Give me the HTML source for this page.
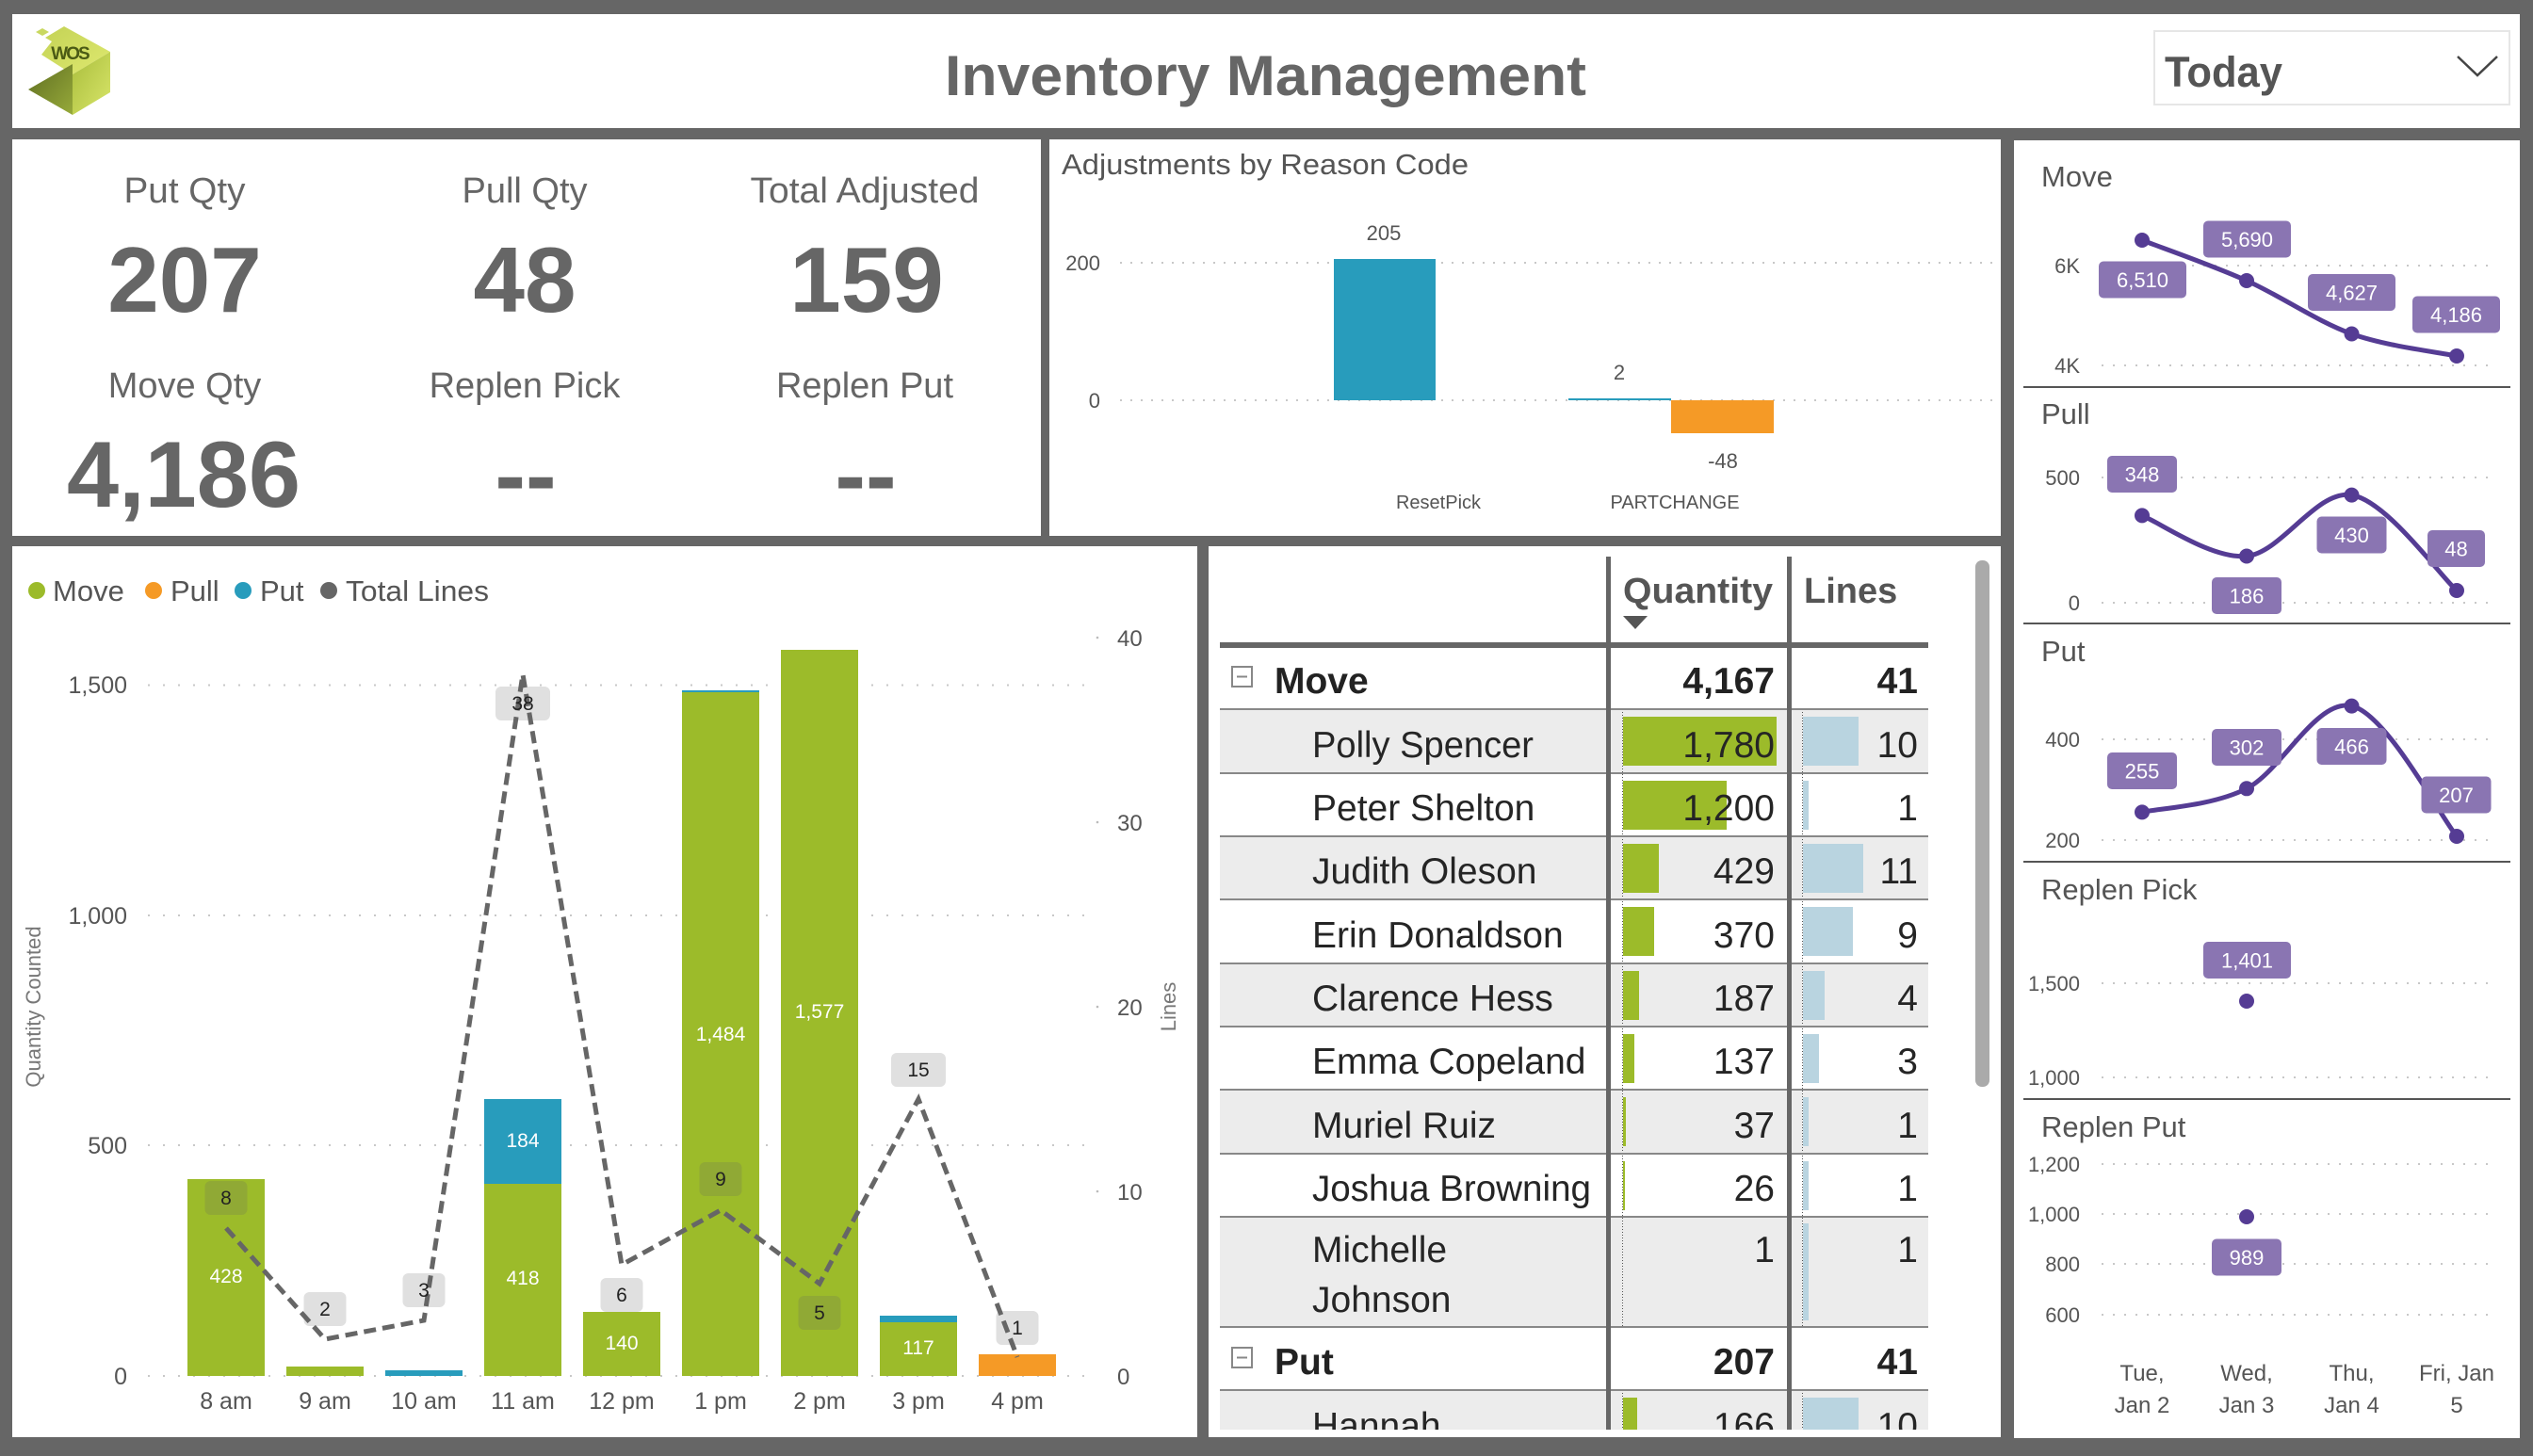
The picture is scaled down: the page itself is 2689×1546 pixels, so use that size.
<!DOCTYPE html>
<html><head><meta charset="utf-8"><style>
html,body{margin:0;padding:0;background:#666;}
svg{display:block;font-family:"Liberation Sans",Arial,sans-serif;}
</style></head><body>
<svg width="2689" height="1546" viewBox="0 0 2689 1546" xmlns="http://www.w3.org/2000/svg">
<rect x="0" y="0" width="2689" height="1546" fill="#666"/>
<!-- panels -->
<rect x="13" y="15" width="2662" height="121" fill="#fff"/>
<rect x="13" y="148" width="1092" height="421" fill="#fff"/>
<rect x="1114" y="148" width="1010" height="421" fill="#fff"/>
<rect x="2138" y="149" width="537" height="1378" fill="#fff"/>
<rect x="13" y="580" width="1258" height="946" fill="#fff"/>
<rect x="1283" y="580" width="841" height="946" fill="#fff"/>

<!-- logo -->
<defs>
<linearGradient id="gt" x1="0" y1="0" x2="1" y2="1"><stop offset="0" stop-color="#c3d255"/><stop offset="1" stop-color="#dfe970"/></linearGradient>
<linearGradient id="gr" x1="0" y1="0" x2="1" y2="1"><stop offset="0" stop-color="#a9bd3c"/><stop offset="1" stop-color="#d9e66a"/></linearGradient>
<linearGradient id="gl" x1="0" y1="0" x2="1" y2="1"><stop offset="0" stop-color="#5f6e22"/><stop offset="1" stop-color="#97aa3a"/></linearGradient>
</defs>
<polygon points="45,30 52,34 45,38 38,34" fill="#c9d860"/>
<polygon points="68,28 117,55 77,79 44,58 55,44 48,40" fill="url(#gt)"/>
<polygon points="117,55 117,98 77,122 77,79" fill="url(#gr)"/>
<polygon points="30,95 77,68 77,122" fill="url(#gl)"/>
<text x="74" y="63" font-size="19" font-weight="bold" fill="#4a5a14" text-anchor="middle" letter-spacing="-2">WOS</text>

<!-- title -->
<text x="1343.5" y="101" font-size="60" font-weight="bold" fill="#666" text-anchor="middle" textLength="681" lengthAdjust="spacingAndGlyphs">Inventory Management</text>
<!-- dropdown -->
<rect x="2287" y="33" width="377" height="78" fill="#fff" stroke="#e6e6e6" stroke-width="2"/>
<text x="2298" y="92" font-size="45" font-weight="bold" fill="#555" textLength="125" lengthAdjust="spacingAndGlyphs">Today</text>
<polyline points="2609,60 2630,80 2651,60" fill="none" stroke="#444" stroke-width="2.5"/>

<!-- KPI -->
<g fill="#666" text-anchor="middle">
<text x="196" y="215" font-size="38" textLength="129" lengthAdjust="spacingAndGlyphs">Put Qty</text>
<text x="557" y="215" font-size="38">Pull Qty</text>
<text x="918" y="215" font-size="38" textLength="243" lengthAdjust="spacingAndGlyphs">Total Adjusted</text>
<text x="196" y="331" font-size="98" font-weight="bold">207</text>
<text x="557" y="331" font-size="98" font-weight="bold">48</text>
<text x="920" y="331" font-size="98" font-weight="bold">159</text>
<text x="196" y="422" font-size="38">Move Qty</text>
<text x="557" y="422" font-size="38">Replen Pick</text>
<text x="918" y="422" font-size="38">Replen Put</text>
<text x="195" y="538" font-size="99" font-weight="bold" textLength="248" lengthAdjust="spacingAndGlyphs">4,186</text>
<text x="558" y="538" font-size="98" font-weight="bold">--</text>
<text x="919" y="538" font-size="98" font-weight="bold">--</text>
</g>

<!-- Adjustments chart -->
<text x="1127" y="185" font-size="31" fill="#555" textLength="432" lengthAdjust="spacingAndGlyphs">Adjustments by Reason Code</text>
<g stroke="#c8c8c8" stroke-width="2" stroke-dasharray="2 9">
<line x1="1189" y1="279" x2="2115" y2="279"/>
<line x1="1189" y1="425" x2="2115" y2="425"/>
</g>
<g font-size="22" fill="#555">
<text x="1168" y="287" text-anchor="end">200</text>
<text x="1168" y="433" text-anchor="end">0</text>
</g>
<rect x="1416" y="275" width="108" height="150" fill="#289cbc"/>
<rect x="1665" y="423" width="109" height="2" fill="#289cbc"/>
<rect x="1774" y="425" width="109" height="35" fill="#f59a26"/>
<g font-size="22" fill="#555" text-anchor="middle">
<text x="1469" y="255">205</text>
<text x="1719" y="403">2</text>
<text x="1829" y="497">-48</text>
</g>
<g font-size="20" fill="#555" text-anchor="middle">
<text x="1527" y="540">ResetPick</text>
<text x="1778" y="540">PARTCHANGE</text>
</g>

<!-- Bottom-left combo chart -->
<g font-size="31" fill="#555">
<circle cx="39" cy="627" r="9" fill="#9cbb2a"/><text x="56" y="638">Move</text>
<circle cx="163" cy="627" r="9" fill="#f59a26"/><text x="181" y="638">Pull</text>
<circle cx="258" cy="627" r="9" fill="#289cbc"/><text x="276" y="638">Put</text>
<circle cx="349" cy="627" r="9" fill="#666"/><text x="367" y="638" textLength="152" lengthAdjust="spacingAndGlyphs">Total Lines</text>
</g>
<g stroke="#c8c8c8" stroke-width="2" stroke-dasharray="2 14">
<line x1="157" y1="727.5" x2="1156" y2="727.5"/>
<line x1="157" y1="972" x2="1156" y2="972"/>
<line x1="157" y1="1216" x2="1156" y2="1216"/>
<line x1="157" y1="1461" x2="1156" y2="1461"/>
</g>
<g fill="#bbb">
<circle cx="1165" cy="677" r="1.3"/><circle cx="1165" cy="873" r="1.3"/><circle cx="1165" cy="1069" r="1.3"/><circle cx="1165" cy="1265" r="1.3"/>
</g>
<g font-size="25" fill="#555" text-anchor="end">
<text x="135" y="736">1,500</text>
<text x="135" y="981">1,000</text>
<text x="135" y="1225">500</text>
<text x="135" y="1470">0</text>
</g>
<g font-size="24" fill="#555">
<text x="1186" y="686">40</text>
<text x="1186" y="882">30</text>
<text x="1186" y="1078">20</text>
<text x="1186" y="1274">10</text>
<text x="1186" y="1470">0</text>
</g>
<text transform="translate(43,1069) rotate(-90)" font-size="22" fill="#777" text-anchor="middle">Quantity Counted</text>
<text transform="translate(1248,1069) rotate(-90)" font-size="22" fill="#777" text-anchor="middle">Lines</text>

<!-- bars -->
<g fill="#9cbb2a">
<rect x="199" y="1252" width="82" height="209"/>
<rect x="304" y="1451" width="82" height="10"/>
<rect x="514" y="1257" width="82" height="204"/>
<rect x="619" y="1393" width="82" height="68"/>
<rect x="724" y="735" width="82" height="726"/>
<rect x="829" y="690" width="82" height="771"/>
<rect x="934" y="1404" width="82" height="57"/>
</g>
<g fill="#289cbc">
<rect x="409" y="1455" width="82" height="6"/>
<rect x="514" y="1167" width="82" height="90"/>
<rect x="724" y="733" width="82" height="2"/>
<rect x="934" y="1397" width="82" height="7"/>
</g>
<rect x="1039" y="1438" width="82" height="23" fill="#f59a26"/>
<g font-size="21" fill="#fff" text-anchor="middle">
<text x="240" y="1362">428</text>
<text x="555" y="1218">184</text>
<text x="555" y="1364">418</text>
<text x="660" y="1433">140</text>
<text x="765" y="1105">1,484</text>
<text x="870" y="1081">1,577</text>
<text x="975" y="1438">117</text>
</g>
<g font-size="25" fill="#555" text-anchor="middle">
<text x="240" y="1496">8 am</text>
<text x="345" y="1496">9 am</text>
<text x="450" y="1496">10 am</text>
<text x="555" y="1496">11 am</text>
<text x="660" y="1496">12 pm</text>
<text x="765" y="1496">1 pm</text>
<text x="870" y="1496">2 pm</text>
<text x="975" y="1496">3 pm</text>
<text x="1080" y="1496">4 pm</text>
</g>
<polyline points="240,1304 345,1422 450,1402 555,716 660,1343 765,1285 870,1363 975,1167 1080,1441" fill="none" stroke="#666" stroke-width="5" stroke-dasharray="13 7"/>
<g fill="#666" fill-opacity="0.2">
<rect x="217.5" y="1254" width="45" height="36" rx="6"/>
<rect x="322.5" y="1372" width="45" height="36" rx="6"/>
<rect x="427.5" y="1352" width="45" height="36" rx="6"/>
<rect x="526" y="729" width="58" height="36" rx="6"/>
<rect x="637.5" y="1357" width="45" height="36" rx="6"/>
<rect x="742.5" y="1234" width="45" height="36" rx="6"/>
<rect x="847.5" y="1376" width="45" height="36" rx="6"/>
<rect x="946" y="1118" width="58" height="36" rx="6"/>
<rect x="1057.5" y="1392" width="45" height="36" rx="6"/>
</g>
<g font-size="21" fill="#222" text-anchor="middle">
<text x="240" y="1279">8</text>
<text x="345" y="1397">2</text>
<text x="450" y="1377">3</text>
<text x="555" y="754">38</text>
<text x="660" y="1382">6</text>
<text x="765" y="1259">9</text>
<text x="870" y="1401">5</text>
<text x="975" y="1143">15</text>
<text x="1080" y="1417">1</text>
</g>

<!-- Table -->
<defs><clipPath id="tc"><rect x="1283" y="580" width="841" height="938"/></clipPath></defs>
<g clip-path="url(#tc)">
<g fill="#ececec">
<rect x="1295" y="753" width="752" height="68"/>
<rect x="1295" y="888" width="752" height="67"/>
<rect x="1295" y="1023" width="752" height="67"/>
<rect x="1295" y="1157" width="752" height="68"/>
<rect x="1295" y="1292" width="752" height="117"/>
<rect x="1295" y="1476" width="752" height="68"/>
</g>
<!-- data bars -->
<g fill="#9cbb2a">
<rect x="1723" y="761" width="163" height="52"/>
<rect x="1723" y="829" width="110" height="52"/>
<rect x="1723" y="896" width="38" height="52"/>
<rect x="1723" y="963" width="33" height="52"/>
<rect x="1723" y="1031" width="17" height="52"/>
<rect x="1723" y="1098" width="12" height="52"/>
<rect x="1723" y="1165" width="3" height="52"/>
<rect x="1723" y="1233" width="2" height="52"/>
<rect x="1723" y="1484" width="15" height="52"/>
</g>
<g fill="#b9d4e0">
<rect x="1914" y="761" width="59" height="52"/>
<rect x="1914" y="829" width="6" height="52"/>
<rect x="1914" y="896" width="64" height="52"/>
<rect x="1914" y="963" width="53" height="52"/>
<rect x="1914" y="1031" width="23" height="52"/>
<rect x="1914" y="1098" width="17" height="52"/>
<rect x="1914" y="1165" width="6" height="52"/>
<rect x="1914" y="1233" width="6" height="52"/>
<rect x="1914" y="1299" width="6" height="103"/>
<rect x="1914" y="1484" width="59" height="52"/>
</g>
<g stroke="#555" stroke-width="1" stroke-dasharray="1 2">
<line x1="1722.5" y1="753" x2="1722.5" y2="1409"/>
<line x1="1913.5" y1="753" x2="1913.5" y2="1409"/>
<line x1="1722.5" y1="1476" x2="1722.5" y2="1546"/>
<line x1="1913.5" y1="1476" x2="1913.5" y2="1546"/>
</g>
<!-- row separators -->
<g fill="#888">
<rect x="1295" y="752" width="752" height="2"/>
<rect x="1295" y="820" width="752" height="2"/>
<rect x="1295" y="887" width="752" height="2"/>
<rect x="1295" y="954" width="752" height="2"/>
<rect x="1295" y="1022" width="752" height="2"/>
<rect x="1295" y="1089" width="752" height="2"/>
<rect x="1295" y="1156" width="752" height="2"/>
<rect x="1295" y="1224" width="752" height="2"/>
<rect x="1295" y="1291" width="752" height="2"/>
<rect x="1295" y="1408" width="752" height="2"/>
<rect x="1295" y="1475" width="752" height="2"/>
</g>
<!-- header -->
<rect x="1295" y="682" width="752" height="6" fill="#666"/>
<rect x="1705" y="591" width="5" height="940" fill="#666"/>
<rect x="1897" y="591" width="5" height="940" fill="#666"/>
<text x="1723" y="640" font-size="38" font-weight="bold" fill="#555" textLength="159" lengthAdjust="spacingAndGlyphs">Quantity</text>
<text x="1915" y="640" font-size="38" font-weight="bold" fill="#555">Lines</text>
<polygon points="1723,654 1749,654 1736,668" fill="#555"/>
<!-- collapse icons -->
<g fill="none" stroke="#888" stroke-width="2">
<rect x="1308" y="708" width="21" height="21"/>
<line x1="1313" y1="718.5" x2="1324" y2="718.5"/>
<rect x="1308" y="1431" width="21" height="21"/>
<line x1="1313" y1="1441.5" x2="1324" y2="1441.5"/>
</g>
<g font-size="39" font-weight="bold" fill="#222">
<text x="1353" y="736">Move</text>
<text x="1884" y="736" text-anchor="end">4,167</text>
<text x="2036" y="736" text-anchor="end">41</text>
<text x="1353" y="1459">Put</text>
<text x="1884" y="1459" text-anchor="end">207</text>
<text x="2036" y="1459" text-anchor="end">41</text>
</g>
<g font-size="39" fill="#252525">
<text x="1393" y="804" textLength="235" lengthAdjust="spacingAndGlyphs">Polly Spencer</text>
<text x="1393" y="871">Peter Shelton</text>
<text x="1393" y="938">Judith Oleson</text>
<text x="1393" y="1006">Erin Donaldson</text>
<text x="1393" y="1073">Clarence Hess</text>
<text x="1393" y="1140">Emma Copeland</text>
<text x="1393" y="1208">Muriel Ruiz</text>
<text x="1393" y="1275" textLength="296" lengthAdjust="spacingAndGlyphs">Joshua Browning</text>
<text x="1393" y="1340">Michelle</text>
<text x="1393" y="1393">Johnson</text>
<text x="1393" y="1527">Hannah</text>
</g>
<g font-size="39" fill="#252525" text-anchor="end">
<text x="1884" y="804">1,780</text><text x="2036" y="804">10</text>
<text x="1884" y="871">1,200</text><text x="2036" y="871">1</text>
<text x="1884" y="938">429</text><text x="2036" y="938">11</text>
<text x="1884" y="1006">370</text><text x="2036" y="1006">9</text>
<text x="1884" y="1073">187</text><text x="2036" y="1073">4</text>
<text x="1884" y="1140">137</text><text x="2036" y="1140">3</text>
<text x="1884" y="1208">37</text><text x="2036" y="1208">1</text>
<text x="1884" y="1275">26</text><text x="2036" y="1275">1</text>
<text x="1884" y="1340">1</text><text x="2036" y="1340">1</text>
<text x="1884" y="1527">166</text><text x="2036" y="1527">10</text>
</g>
</g>
<rect x="2097" y="595" width="15" height="559" rx="7" fill="#aaa"/>

<!-- Right panel small multiples -->
<g font-size="31" fill="#555">
<text x="2167" y="198">Move</text>
<text x="2167" y="450">Pull</text>
<text x="2167" y="702">Put</text>
<text x="2167" y="955">Replen Pick</text>
<text x="2167" y="1207">Replen Put</text>
</g>
<g fill="#555">
<rect x="2148" y="410" width="517" height="2"/>
<rect x="2148" y="661" width="517" height="2"/>
<rect x="2148" y="914" width="517" height="2"/>
<rect x="2148" y="1166" width="517" height="2"/>
</g>
<g stroke="#c8c8c8" stroke-width="2" stroke-dasharray="2 10">
<line x1="2231" y1="282" x2="2647" y2="282"/>
<line x1="2231" y1="388" x2="2647" y2="388"/>
<line x1="2231" y1="507" x2="2647" y2="507"/>
<line x1="2231" y1="640" x2="2647" y2="640"/>
<line x1="2231" y1="785" x2="2647" y2="785"/>
<line x1="2231" y1="892" x2="2647" y2="892"/>
<line x1="2231" y1="1044" x2="2647" y2="1044"/>
<line x1="2231" y1="1144" x2="2647" y2="1144"/>
<line x1="2231" y1="1236" x2="2647" y2="1236"/>
<line x1="2231" y1="1289" x2="2647" y2="1289"/>
<line x1="2231" y1="1342" x2="2647" y2="1342"/>
<line x1="2231" y1="1396" x2="2647" y2="1396"/>
</g>
<g font-size="22" fill="#555" text-anchor="end">
<text x="2208" y="290">6K</text>
<text x="2208" y="396">4K</text>
<text x="2208" y="515">500</text>
<text x="2208" y="648">0</text>
<text x="2208" y="793">400</text>
<text x="2208" y="900">200</text>
<text x="2208" y="1052">1,500</text>
<text x="2208" y="1152">1,000</text>
<text x="2208" y="1244">1,200</text>
<text x="2208" y="1297">1,000</text>
<text x="2208" y="1350">800</text>
<text x="2208" y="1404">600</text>
</g>
<g fill="none" stroke="#553c94" stroke-width="5" stroke-linecap="round">
<path d="M2274,255 C2292.5,262.2 2347.9,281.4 2385,298 C2422.1,314.6 2459.3,341.2 2496.5,354.5 C2533.7,367.8 2589.4,374.1 2608,378"/>
<path d="M2274,547.4 C2292.5,554.6 2347.9,594.1 2385,590.5 C2422.1,586.9 2459.3,519.5 2496.5,525.6 C2533.7,531.7 2589.4,610.1 2608,627"/>
<path d="M2274,862.4 C2292.5,858.2 2347.9,856.1 2385,837.3 C2422.1,818.5 2459.3,741.1 2496.5,749.6 C2533.7,758.1 2589.4,864.9 2608,888"/>
</g>
<g fill="#553c94">
<circle cx="2274" cy="255" r="8"/><circle cx="2385" cy="298" r="8"/><circle cx="2496.5" cy="354.5" r="8"/><circle cx="2608" cy="378" r="8"/>
<circle cx="2274" cy="547.4" r="8"/><circle cx="2385" cy="590.5" r="8"/><circle cx="2496.5" cy="525.6" r="8"/><circle cx="2608" cy="627" r="8"/>
<circle cx="2274" cy="862.4" r="8"/><circle cx="2385" cy="837.3" r="8"/><circle cx="2496.5" cy="749.6" r="8"/><circle cx="2608" cy="888" r="8"/>
<circle cx="2385" cy="1063" r="8"/>
<circle cx="2385" cy="1292" r="8"/>
</g>
<g fill="#8a75b2">
<rect x="2228" y="277.5" width="93" height="39" rx="5"/>
<rect x="2339" y="234.5" width="93" height="39" rx="5"/>
<rect x="2450" y="291" width="93" height="39" rx="5"/>
<rect x="2561" y="314.5" width="93" height="39" rx="5"/>
<rect x="2237" y="484" width="74" height="39" rx="5"/>
<rect x="2348" y="613" width="74" height="39" rx="5"/>
<rect x="2459.5" y="548.5" width="74" height="39" rx="5"/>
<rect x="2577" y="563" width="61" height="39" rx="5"/>
<rect x="2237" y="799" width="74" height="39" rx="5"/>
<rect x="2348" y="774" width="74" height="39" rx="5"/>
<rect x="2459.5" y="773" width="74" height="39" rx="5"/>
<rect x="2570.5" y="824.5" width="74" height="39" rx="5"/>
<rect x="2339" y="1000" width="93" height="39" rx="5"/>
<rect x="2348" y="1315.5" width="74" height="39" rx="5"/>
</g>
<g font-size="22" fill="#fff" text-anchor="middle">
<text x="2274.5" y="305">6,510</text>
<text x="2385.5" y="262">5,690</text>
<text x="2496.5" y="318.5">4,627</text>
<text x="2607.5" y="342">4,186</text>
<text x="2274" y="511.5">348</text>
<text x="2385" y="640.5">186</text>
<text x="2496.5" y="576">430</text>
<text x="2607.5" y="590.5">48</text>
<text x="2274" y="826.5">255</text>
<text x="2385" y="801.5">302</text>
<text x="2496.5" y="800.5">466</text>
<text x="2607.5" y="852">207</text>
<text x="2385.5" y="1027.5">1,401</text>
<text x="2385" y="1343">989</text>
</g>
<g font-size="24" fill="#555" text-anchor="middle">
<text x="2274" y="1466">Tue,</text><text x="2274" y="1500">Jan 2</text>
<text x="2385" y="1466">Wed,</text><text x="2385" y="1500">Jan 3</text>
<text x="2496.5" y="1466">Thu,</text><text x="2496.5" y="1500">Jan 4</text>
<text x="2608" y="1466">Fri, Jan</text><text x="2608" y="1500">5</text>
</g>
</svg>
</body></html>
